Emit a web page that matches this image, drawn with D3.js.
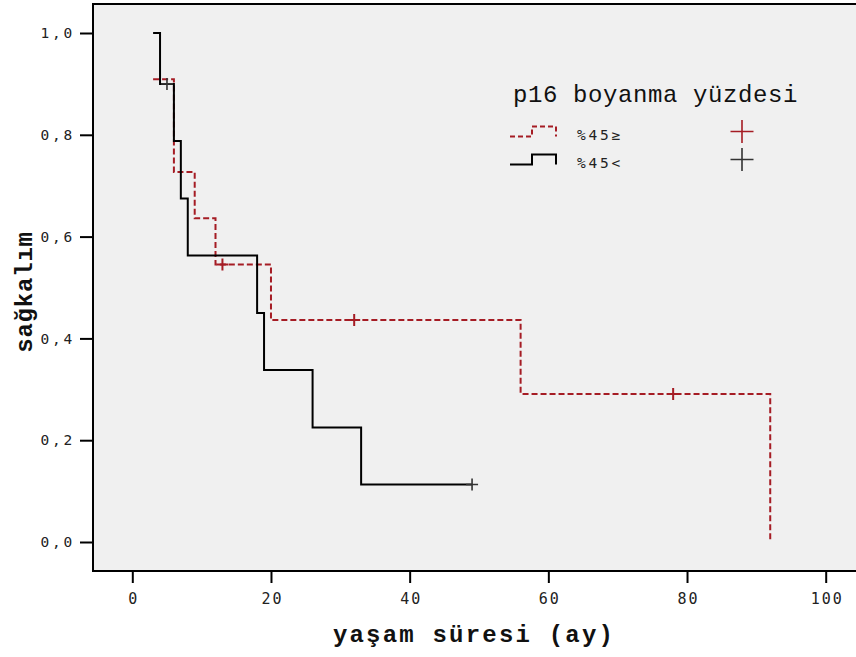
<!DOCTYPE html>
<html>
<head>
  <meta charset="utf-8">
  <title>sağkalım - p16 boyanma yüzdesi</title>
  <style>
  body {
    margin: 0px;
    background: #fff;
  }
  .tick-lbl {
    font-family: "DejaVu Sans Mono", monospace;
    fill: #222;
  }
  .ttl {
    font-family: "Liberation Mono", "Courier New", monospace;
    fill: #111;
  }
  </style>
</head>
<body>
  <svg width="856" height="657"></svg>
  <script src="https://d3js.org/d3.v7.min.js"></script>
  <script>
  // %45≥ group
  var lowTimes = [3, 6, 9, 12, 20, 56, 92];
  var lowSurv = [0.909, 0.727, 0.636, 0.545, 0.436, 0.291, 0.0];
  var lowCensorTimes = [13, 32, 78];
  var lowCensorSurv = [0.545, 0.436, 0.291];

  // %45< group
  var highTimes = [3, 4, 6, 7, 8, 18, 19, 26, 33, 49];
  var highSurv = [1.0, 0.9, 0.788, 0.675, 0.563, 0.45, 0.338, 0.225, 0.113, 0.113];
  var highCensorTimes = [5, 49];
  var highCensorSurv = [0.9, 0.113];

  var xTicks = [0, 20, 40, 60, 80, 100];
  var yTicks = [0, 0.2, 0.4, 0.6, 0.8, 1.0];
  var groupLabels = ["%45≥", "%45<"];
  var lineColors = ["#a51c24", "#000"];
  var censorColors = ["#a51c24", "#333"];

  var svg = d3.select("svg");
  var panelLeft = 93, panelTop = 4, panelBottom = 571;

  var x = d3.scaleLinear().domain([0, 100]).range([132.3, 825.7]);
  var y = d3.scaleLinear().domain([0, 1]).range([542, 33]);

  // panel
  svg.append("rect")
    .attr("x", panelLeft)
    .attr("y", panelTop)
    .attr("width", 900)
    .attr("height", panelBottom - panelTop)
    .attr("fill", "#f0f0f0")
    .attr("stroke", "#000")
    .attr("stroke-width", 2);

  // axes
  var yAxis = svg.append("g")
    .attr("transform", "translate(" + panelLeft + ",0)")
    .call(d3.axisLeft(y).tickValues(yTicks).tickSize(13).tickPadding(5)
      .tickFormat(function(d) { return d.toFixed(1).replace(".", ","); }));
  yAxis.select(".domain").remove();
  yAxis.selectAll("line").attr("stroke", "#000").attr("stroke-width", 2);
  yAxis.selectAll("text")
    .attr("class", "tick-lbl")
    .style("font-size", "14.5px")
    .style("letter-spacing", "2.8px");

  var xAxis = svg.append("g")
    .attr("transform", "translate(0," + panelBottom + ")")
    .call(d3.axisBottom(x).tickValues(xTicks).tickSize(12).tickPadding(10));
  xAxis.select(".domain").remove();
  xAxis.selectAll("line").attr("stroke", "#000").attr("stroke-width", 2);
  xAxis.selectAll("text")
    .attr("class", "tick-lbl")
    .attr("dx", 1)
    .style("font-size", "15px")
    .style("letter-spacing", "2px");

  // titles
  svg.append("text")
    .attr("class", "ttl")
    .attr("x", 474)
    .attr("y", 642)
    .attr("text-anchor", "middle")
    .style("font-size", "24px")
    .style("font-weight", "bold")
    .style("letter-spacing", "2.2px")
    .text("yaşam süresi (ay)");

  svg.append("text")
    .attr("class", "ttl")
    .attr("transform", "translate(32,292) rotate(-90)")
    .attr("text-anchor", "middle")
    .style("font-size", "24px")
    .style("font-weight", "bold")
    .style("letter-spacing", "0.8px")
    .text("sağkalım");

  // survival curves
  var line = d3.line()
    .x(function(d) { return x(d[0]); })
    .y(function(d) { return y(d[1]); })
    .curve(d3.curveStepAfter);

  var curves = [
    d3.zip(lowTimes, lowSurv),
    d3.zip(highTimes, highSurv)
  ];
  var censors = [
    d3.zip(lowCensorTimes, lowCensorSurv),
    d3.zip(highCensorTimes, highCensorSurv)
  ];

  curves.forEach(function(pts, i) {
    svg.append("path")
      .attr("d", line(pts))
      .attr("fill", "none")
      .attr("stroke", lineColors[i])
      .attr("stroke-width", 2)
      .attr("stroke-dasharray", i == 0 ? "6,3" : null);
  });

  censors.forEach(function(pts, i) {
    svg.selectAll(".cens" + i)
      .data(pts)
      .enter()
      .append("path")
      .attr("class", "cens" + i)
      .attr("transform", function(d) { return "translate(" + x(d[0]) + "," + y(d[1]) + ")"; })
      .attr("d", "M-6,0H6M0,-6V6")
      .attr("fill", "none")
      .attr("stroke", censorColors[i])
      .attr("stroke-width", i == 0 ? 2 : 1.6);
  });

  // legend
  var legend = svg.append("g").attr("transform", "translate(510,0)");

  legend.append("text")
    .attr("class", "ttl")
    .attr("x", 3)
    .attr("y", 102)
    .style("font-size", "24px")
    .style("letter-spacing", "0.6px")
    .text("p16 boyanma yüzdesi");

  groupLabels.forEach(function(label, i) {
    var cy = 131.5 + 28 * i;
    legend.append("path")
      .attr("d", "M0," + (cy + 5) + "H22V" + (cy - 5) + "H46V" + (cy + 5))
      .attr("fill", "none")
      .attr("stroke", lineColors[i])
      .attr("stroke-width", 2)
      .attr("stroke-dasharray", i == 0 ? "5,3" : null);

    legend.append("text")
      .attr("class", "tick-lbl")
      .attr("x", 67)
      .attr("y", cy + 8)
      .style("font-size", "14.5px")
      .style("letter-spacing", "2.8px")
      .text(label);

    legend.append("path")
      .attr("transform", "translate(232," + cy + ")")
      .attr("d", "M-11.5,0H11.5M0,-11.5V11.5")
      .attr("fill", "none")
      .attr("stroke", censorColors[i])
      .attr("stroke-width", 1.6);
  });
  </script>
</body>
</html>
